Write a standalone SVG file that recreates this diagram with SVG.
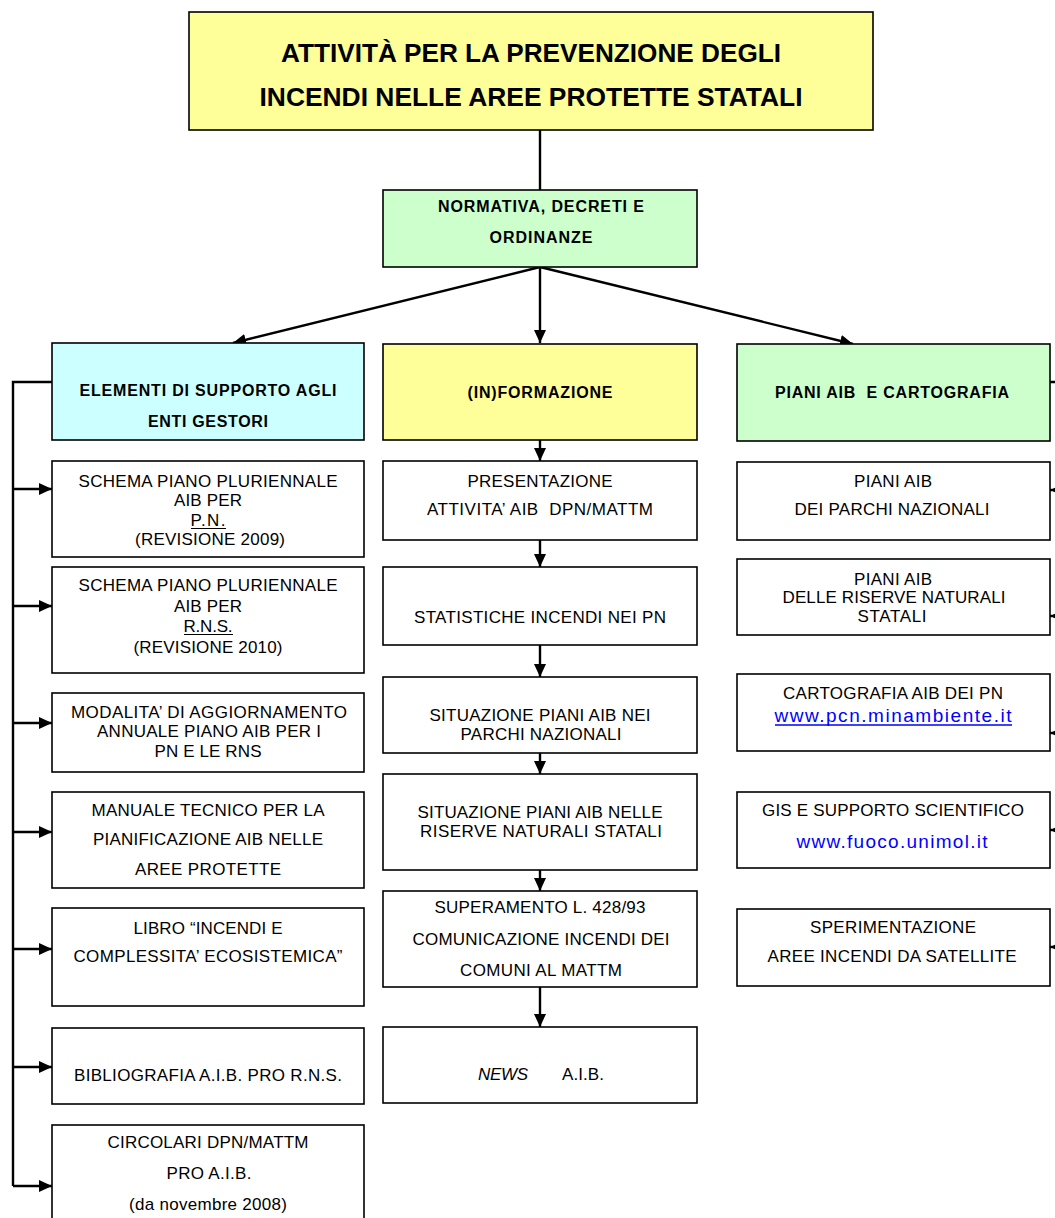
<svg xmlns="http://www.w3.org/2000/svg" width="1055" height="1218" viewBox="0 0 1055 1218">
<style>
.bg{fill:#ffffff}
.box{fill:#ffffff;stroke:#000;stroke-width:1.6}
.yel{fill:#FFFF99}
.grn{fill:#CCFFCC}
.cyn{fill:#CCFFFF}
text{font-family:"Liberation Sans",Arial,sans-serif;text-anchor:middle;fill:#000}
.t{font-size:17px}
.h{font-size:16px;font-weight:bold}
.ttl{font-size:26px;font-weight:bold}
.lnk{font-size:19px;fill:#0000FF}
.con{stroke:#000;stroke-width:2.4;fill:none}
.arr{marker-end:url(#ah)}
</style>
<defs>
<marker id="ah" markerUnits="userSpaceOnUse" markerWidth="13" markerHeight="12" refX="13" refY="6" orient="auto">
<path d="M0,0 L13,6 L0,12 z" fill="#000"/>
</marker>
</defs>
<rect class="bg" x="0" y="0" width="1055" height="1218"/>

<g id="connectors">
<line class="con" x1="540" y1="130" x2="540" y2="190"/>
<line class="con arr" x1="540" y1="267" x2="233" y2="343"/>
<line class="con arr" x1="540" y1="267" x2="540" y2="343"/>
<line class="con arr" x1="540" y1="267" x2="853" y2="344"/>
<polyline class="con" points="52,382 13,382 13,1186"/>
<line class="con arr" x1="13" y1="489" x2="52" y2="489"/>
<line class="con arr" x1="13" y1="606" x2="52" y2="606"/>
<line class="con arr" x1="13" y1="723" x2="52" y2="723"/>
<line class="con arr" x1="13" y1="832" x2="52" y2="832"/>
<line class="con arr" x1="13" y1="949" x2="52" y2="949"/>
<line class="con arr" x1="13" y1="1067" x2="52" y2="1067"/>
<line class="con arr" x1="13" y1="1186" x2="52" y2="1186"/>
<line class="con arr" x1="540" y1="440" x2="540" y2="461"/>
<line class="con arr" x1="540" y1="540" x2="540" y2="567"/>
<line class="con arr" x1="540" y1="645" x2="540" y2="677"/>
<line class="con arr" x1="540" y1="753" x2="540" y2="774"/>
<line class="con arr" x1="540" y1="870" x2="540" y2="891"/>
<line class="con arr" x1="540" y1="987" x2="540" y2="1027"/>
<polyline class="con" points="1050,382 1070,382 1070,947"/>
<line class="con arr" x1="1070" y1="490" x2="1050" y2="490"/>
<line class="con arr" x1="1070" y1="616" x2="1050" y2="616"/>
<line class="con arr" x1="1070" y1="733" x2="1050" y2="733"/>
<line class="con arr" x1="1070" y1="830" x2="1050" y2="830"/>
<line class="con arr" x1="1070" y1="947" x2="1050" y2="947"/>
</g>

<g id="title">
<rect class="box yel" x="189" y="12" width="684" height="118" stroke-width="2"/>
<text class="ttl" x="531" y="62" textLength="500" lengthAdjust="spacingAndGlyphs">ATTIVITÀ PER LA PREVENZIONE DEGLI</text>
<text class="ttl" x="531" y="106" textLength="543" lengthAdjust="spacingAndGlyphs">INCENDI NELLE AREE PROTETTE STATALI</text>
</g>

<g id="normativa">
<rect class="box grn" x="383" y="190" width="314" height="77"/>
<text class="h" x="541" y="212" textLength="206" lengthAdjust="spacing">NORMATIVA, DECRETI E</text>
<text class="h" x="541" y="243" textLength="103" lengthAdjust="spacing">ORDINANZE</text>
</g>

<g id="elementi">
<rect class="box cyn" x="52" y="343" width="312" height="97"/>
<text class="h" x="208" y="396" textLength="257" lengthAdjust="spacing">ELEMENTI DI SUPPORTO AGLI</text>
<text class="h" x="208" y="427" textLength="120" lengthAdjust="spacing">ENTI GESTORI</text>
</g>

<g id="informazione">
<rect class="box yel" x="383" y="344" width="314" height="96"/>
<text class="h" x="540" y="398" textLength="145" lengthAdjust="spacing">(IN)FORMAZIONE</text>
</g>

<g id="piani">
<rect class="box grn" x="737" y="344" width="313" height="97"/>
<text class="h" x="892" y="398" textLength="234" lengthAdjust="spacing" xml:space="preserve">PIANI AIB  E CARTOGRAFIA</text>
</g>

<g id="l1">
<rect class="box" x="52" y="461" width="312" height="96"/>
<text class="t" x="208" y="487" textLength="259" lengthAdjust="spacing">SCHEMA PIANO PLURIENNALE</text>
<text class="t" x="208" y="506" textLength="68" lengthAdjust="spacing">AIB PER</text>
<text class="t" x="208" y="526" textLength="35" lengthAdjust="spacing">P.N.</text>
<line x1="191" y1="528.5" x2="226" y2="528.5" stroke="#000" stroke-width="1.2"/>
<text class="t" x="210" y="545" textLength="150" lengthAdjust="spacing">(REVISIONE 2009)</text>
</g>

<g id="l2">
<rect class="box" x="52" y="567" width="312" height="106"/>
<text class="t" x="208" y="591" textLength="259" lengthAdjust="spacing">SCHEMA PIANO PLURIENNALE</text>
<text class="t" x="208" y="612" textLength="68" lengthAdjust="spacing">AIB PER</text>
<text class="t" x="208" y="632" textLength="49" lengthAdjust="spacing">R.N.S.</text>
<line x1="184" y1="634.5" x2="233" y2="634.5" stroke="#000" stroke-width="1.2"/>
<text class="t" x="208" y="653" textLength="149" lengthAdjust="spacing">(REVISIONE 2010)</text>
</g>

<g id="l3">
<rect class="box" x="52" y="693" width="312" height="79"/>
<text class="t" x="209" y="718" textLength="276" lengthAdjust="spacing">MODALITA’ DI AGGIORNAMENTO</text>
<text class="t" x="209" y="737" textLength="224" lengthAdjust="spacing">ANNUALE PIANO AIB PER I</text>
<text class="t" x="208" y="757" textLength="107" lengthAdjust="spacing">PN E LE RNS</text>
</g>

<g id="l4">
<rect class="box" x="52" y="792" width="312" height="96"/>
<text class="t" x="208" y="816" textLength="233" lengthAdjust="spacing">MANUALE TECNICO PER LA</text>
<text class="t" x="208" y="845" textLength="230" lengthAdjust="spacing">PIANIFICAZIONE AIB NELLE</text>
<text class="t" x="208" y="875" textLength="146" lengthAdjust="spacing">AREE PROTETTE</text>
</g>

<g id="l5">
<rect class="box" x="52" y="908" width="312" height="98"/>
<text class="t" x="208" y="934" textLength="149" lengthAdjust="spacing">LIBRO “INCENDI E</text>
<text class="t" x="208" y="962" textLength="269" lengthAdjust="spacing">COMPLESSITA’ ECOSISTEMICA”</text>
</g>

<g id="l6">
<rect class="box" x="52" y="1028" width="312" height="76"/>
<text class="t" x="208" y="1081" textLength="268" lengthAdjust="spacing">BIBLIOGRAFIA A.I.B. PRO R.N.S.</text>
</g>

<g id="l7">
<rect class="box" x="52" y="1125" width="312" height="100"/>
<text class="t" x="208" y="1148" textLength="201" lengthAdjust="spacing">CIRCOLARI DPN/MATTM</text>
<text class="t" x="209" y="1179" textLength="85" lengthAdjust="spacing">PRO A.I.B.</text>
<text class="t" x="208" y="1210" textLength="158" lengthAdjust="spacing">(da novembre 2008)</text>
</g>

<g id="c1">
<rect class="box" x="383" y="461" width="314" height="79"/>
<text class="t" x="540" y="487" textLength="145" lengthAdjust="spacing">PRESENTAZIONE</text>
<text class="t" x="540" y="515" textLength="226" lengthAdjust="spacing" xml:space="preserve">ATTIVITA’ AIB  DPN/MATTM</text>
</g>

<g id="c2">
<rect class="box" x="383" y="567" width="314" height="78"/>
<text class="t" x="540" y="623" textLength="252" lengthAdjust="spacing">STATISTICHE INCENDI NEI PN</text>
</g>

<g id="c3">
<rect class="box" x="383" y="677" width="314" height="76"/>
<text class="t" x="540" y="721" textLength="221" lengthAdjust="spacing">SITUAZIONE PIANI AIB NEI</text>
<text class="t" x="541" y="740" textLength="161" lengthAdjust="spacing">PARCHI NAZIONALI</text>
</g>

<g id="c4">
<rect class="box" x="383" y="774" width="314" height="96"/>
<text class="t" x="540" y="818" textLength="245" lengthAdjust="spacing">SITUAZIONE PIANI AIB NELLE</text>
<text class="t" x="541" y="837" textLength="242" lengthAdjust="spacing">RISERVE NATURALI STATALI</text>
</g>

<g id="c5">
<rect class="box" x="383" y="891" width="314" height="96"/>
<text class="t" x="540" y="913" textLength="211" lengthAdjust="spacing">SUPERAMENTO L. 428/93</text>
<text class="t" x="541" y="945" textLength="257" lengthAdjust="spacing">COMUNICAZIONE INCENDI DEI</text>
<text class="t" x="541" y="976" textLength="162" lengthAdjust="spacing">COMUNI AL MATTM</text>
</g>

<g id="c6">
<rect class="box" x="383" y="1027" width="314" height="76"/>
<text class="t" x="503" y="1080" font-style="italic" textLength="50" lengthAdjust="spacing">NEWS</text>
<text class="t" x="583" y="1080" textLength="42" lengthAdjust="spacing">A.I.B.</text>
</g>

<g id="r1">
<rect class="box" x="737" y="462" width="313" height="78"/>
<text class="t" x="893" y="487" textLength="78" lengthAdjust="spacing">PIANI AIB</text>
<text class="t" x="892" y="515" textLength="195" lengthAdjust="spacing">DEI PARCHI NAZIONALI</text>
</g>

<g id="r2">
<rect class="box" x="737" y="559" width="313" height="76"/>
<text class="t" x="893" y="585" textLength="78" lengthAdjust="spacing">PIANI AIB</text>
<text class="t" x="894" y="603" textLength="223" lengthAdjust="spacing">DELLE RISERVE NATURALI</text>
<text class="t" x="892" y="622" textLength="69" lengthAdjust="spacing">STATALI</text>
</g>

<g id="r3">
<rect class="box" x="737" y="674" width="313" height="77"/>
<text class="t" x="893" y="699" textLength="220" lengthAdjust="spacing">CARTOGRAFIA AIB DEI PN</text>
<text class="lnk" x="893" y="722" textLength="237" lengthAdjust="spacing">www.pcn.minambiente.it</text>
<line x1="775" y1="725" x2="1012" y2="725" stroke="#0000FF" stroke-width="1.3"/>
</g>

<g id="r4">
<rect class="box" x="737" y="792" width="313" height="76"/>
<text class="t" x="893" y="816" textLength="262" lengthAdjust="spacing">GIS E SUPPORTO SCIENTIFICO</text>
<text class="lnk" x="892" y="848" textLength="191" lengthAdjust="spacing">www.fuoco.unimol.it</text>
</g>

<g id="r5">
<rect class="box" x="737" y="909" width="313" height="77"/>
<text class="t" x="893" y="933" textLength="166" lengthAdjust="spacing">SPERIMENTAZIONE</text>
<text class="t" x="892" y="962" textLength="249" lengthAdjust="spacing">AREE INCENDI DA SATELLITE</text>
</g>
</svg>
